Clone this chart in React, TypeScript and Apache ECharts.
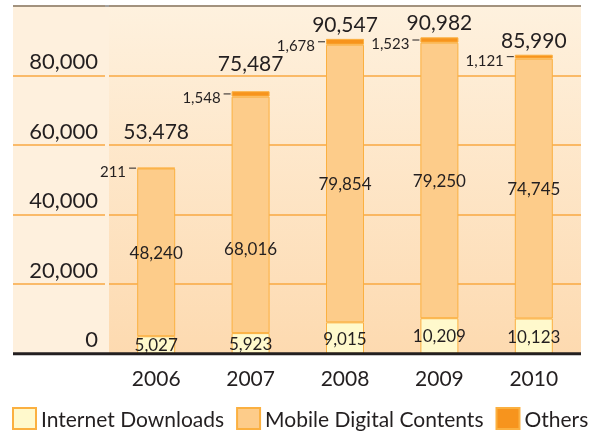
import React, { useEffect, useRef } from 'react';
import * as echarts from 'echarts';

const years = ['2006', '2007', '2008', '2009', '2010'];
const internetDownloads = [5027, 5923, 9015, 10209, 10123];
const mobileContents = [48240, 68016, 79854, 79250, 74745];
const others = [211, 1548, 1678, 1523, 1121];
const totals = [53478, 75487, 90547, 90982, 85990];
const seriesNames = ['Internet Downloads', 'Mobile Digital Contents', 'Others'];

const fmt = (v: number) => Number(v).toLocaleString('en-US');

export default function App() {
  const ref = useRef<HTMLDivElement>(null);
  useEffect(() => {
    const chart = echarts.init(ref.current!, null, { renderer: 'svg' });
    const W = 606, H = 432;
    const plotLeft = 13, colRight = 105, splitX = 109, plotRight = 581;
    const plotTop = 6, plotBottom = 353.7;
    const font = 'Lato, sans-serif';
    const ink = '#231f20';
    const border = '#fbb040';
    const gridLine = { show: true, lineStyle: { color: '#f9a942', width: 1.5 } };
    const totalOffsets = [-22, -13, 0, 0, 0];
    const mobileOffsets = [0, 34, 0, 0, 0];
    const yRange = { type: 'value', min: 0, max: 100000, interval: 20000 };

    const option: any = {
      animation: false,
      textStyle: { fontFamily: font },
      graphic: [
        {
          type: 'rect', z: -10, silent: true,
          shape: { x: plotLeft, y: plotTop, width: splitX - plotLeft, height: plotBottom - plotTop },
          style: { fill: '#fef0dd' },
        },
        {
          type: 'rect', z: -10, silent: true,
          shape: { x: splitX, y: plotTop, width: plotRight - splitX, height: plotBottom - plotTop },
          style: {
            fill: new echarts.graphic.LinearGradient(0, 0, 0, 1, [
              { offset: 0, color: '#fef1de' },
              { offset: 1, color: '#fddab0' },
            ]),
          },
        },
        {
          type: 'line', z: 100, silent: true,
          shape: { x1: plotLeft, y1: plotTop, x2: plotRight, y2: plotTop },
          style: { stroke: '#858585', lineWidth: 1.5 },
        },
        {
          type: 'line', z: 100, silent: true,
          shape: { x1: plotLeft, y1: plotBottom, x2: plotRight, y2: plotBottom },
          style: { stroke: ink, lineWidth: 3 },
        },
      ],
      grid: [
        { left: plotLeft, top: plotTop, width: colRight - plotLeft, bottom: H - plotBottom },
        { left: splitX, top: plotTop, right: W - plotRight, bottom: H - plotBottom },
      ],
      xAxis: [
        { gridIndex: 0, type: 'value', show: false },
        {
          gridIndex: 1, type: 'category', data: years,
          axisLine: { show: false }, axisTick: { show: false },
          axisLabel: { fontSize: 21, color: ink, margin: 13, fontFamily: font },
        },
      ],
      yAxis: [
        {
          ...yRange, gridIndex: 0, position: 'right',
          axisLine: { show: false }, axisTick: { show: false }, splitLine: gridLine,
          axisLabel: {
            inside: true, margin: 7, align: 'right', fontSize: 22, color: ink, fontFamily: font,
            verticalAlign: 'bottom', lineHeight: 22, padding: [0, 0, 4, 0],
            formatter: (v: number) => (v >= 100000 ? '' : fmt(v)),
          },
        },
        {
          ...yRange, gridIndex: 1,
          axisLine: { show: false }, axisTick: { show: false }, splitLine: gridLine,
          axisLabel: { show: false },
        },
      ],
      legend: {
        data: seriesNames,
        left: 7, top: 402,
        itemWidth: 23, itemHeight: 21, itemGap: 12,
        icon: 'rect',
        textStyle: { fontSize: 21, color: ink, fontFamily: font },
      },
      series: [
        {
          name: seriesNames[0], type: 'bar', stack: 'total', xAxisIndex: 1, yAxisIndex: 1,
          barWidth: 38, barGap: '-100%',
          data: internetDownloads,
          itemStyle: { color: '#fff9cc', borderColor: border, borderWidth: 1 },
          label: { show: true, position: 'inside', fontSize: 17, color: ink, fontFamily: font, formatter: (p: any) => fmt(p.value) },
        },
        {
          name: seriesNames[1], type: 'bar', stack: 'total', xAxisIndex: 1, yAxisIndex: 1,
          barWidth: 38, barGap: '-100%',
          data: mobileContents.map((v, i) => ({ value: v, label: { offset: [0, mobileOffsets[i]] } })),
          itemStyle: { color: '#fdcc8a', borderColor: border, borderWidth: 1 },
          label: { show: true, position: 'inside', fontSize: 17, color: ink, fontFamily: font, formatter: (p: any) => fmt(p.value) },
        },
        {
          name: seriesNames[2], type: 'bar', stack: 'total', xAxisIndex: 1, yAxisIndex: 1,
          barWidth: 38, barGap: '-100%',
          data: others,
          itemStyle: { color: '#f7941d', borderColor: border, borderWidth: 1 },
          label: {
            show: true, position: 'left', distance: 1,
            formatter: (p: any) => `{v|${fmt(p.value)}}{l|}`,
            rich: {
              v: { fontSize: 15, color: ink, fontFamily: font, padding: [6, 3, 0, 0] },
              l: { width: 7, height: 1, backgroundColor: ink },
            },
          },
        },
        {
          name: 'Total', type: 'bar', xAxisIndex: 1, yAxisIndex: 1,
          barWidth: 38, barGap: '-100%', silent: true,
          data: totals.map((v, i) => ({ value: v, label: { offset: [0, totalOffsets[i]] } })),
          itemStyle: { color: 'transparent' },
          label: { show: true, position: 'top', distance: 5, fontSize: 21, color: ink, fontFamily: font, formatter: (p: any) => fmt(p.value) },
        },
      ],
    };
    chart.setOption(option);
    return () => chart.dispose();
  }, []);
  return <div ref={ref} style={{ position: 'fixed', left: 0, top: 0, width: 606, height: 432 }} />;
}
